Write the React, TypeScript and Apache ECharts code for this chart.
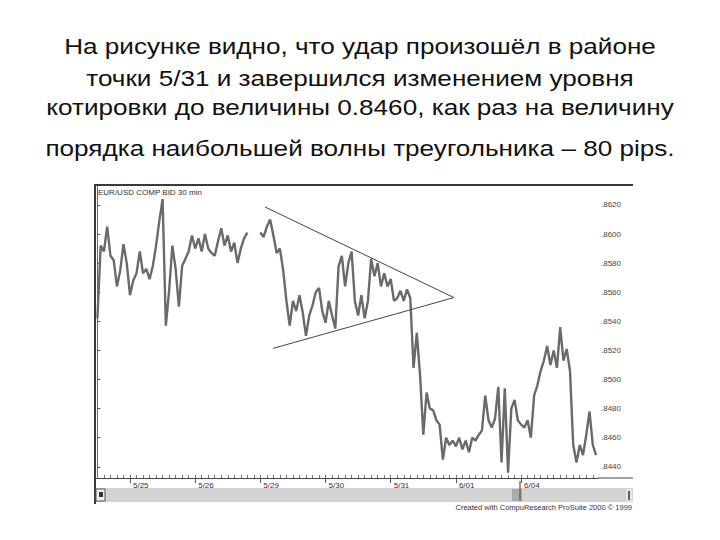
import React, { useEffect, useRef } from "react";
import * as echarts from "echarts";

const titleLines = [
  "На рисунке видно, что удар произошёл в районе",
  "точки 5/31 и завершился изменением уровня",
  "котировки до величины 0.8460, как раз на величину",
  "порядка наибольшей волны треугольника – 80 pips.",
];
const titleBaselines = [53, 85, 114, 155];

const chartCaption = "EUR/USD COMP BID 30 min";
const creditText = "Created with CompuResearch ProSuite 2000 © 1999";

// x axis: 20 sampled steps per trading day
const dayLabels = ["5/25", "5/26", "5/29", "5/30", "5/31", "6/01", "6/04"];
const dayStarts = [10, 30, 50, 70, 90, 110, 130];
const minorTicks: number[] = [];
for (let t = 0; t <= 152; t += 2) minorTicks.push(t);

const priceTicks = [0.844, 0.846, 0.848, 0.85, 0.852, 0.854, 0.856, 0.858, 0.86, 0.862];

const prices: (number | null)[] = [
  0.8542, 0.8592, 0.8588, 0.8605, 0.8585, 0.8582, 0.8564, 0.8575, 0.8593, 0.8580,
  0.8558, 0.8568, 0.8573, 0.8588, 0.8573, 0.8576, 0.8569, 0.8578, 0.8592, 0.8609,
  0.8624, 0.8537, 0.8561, 0.8592, 0.8576, 0.8550, 0.8578, 0.8583, 0.8588, 0.8599,
  0.8590, 0.8597, 0.8588, 0.8600, 0.8590, 0.8587, 0.8585, 0.8595, 0.8604, 0.8592,
  0.8599, 0.8588, 0.8594, 0.8580, 0.8590, 0.8597, 0.8601, null, null, null,
  0.8601, 0.8598, 0.8605, 0.8610, 0.8599, 0.8587, 0.8590, 0.8575, 0.8554, 0.8537,
  0.8554, 0.8547, 0.8558, 0.8546, 0.8530, 0.8544, 0.8551, 0.8560, 0.8563, 0.8547,
  0.8539, 0.8554, 0.8544, 0.8535, 0.8578, 0.8585, 0.8564, 0.8580, 0.8588, 0.8554,
  0.8544, 0.8558, 0.8542, 0.8554, 0.8583, 0.8571, 0.8580, 0.8564, 0.8573, 0.8564,
  0.8569, 0.8554, 0.8556, 0.8561, 0.8554, 0.8562, 0.8556, 0.8508, 0.8532, 0.8503,
  0.8462, 0.8491, 0.8480, 0.8479, 0.8472, 0.8469, 0.8445, 0.8460, 0.8455, 0.8458,
  0.8454, 0.8460, 0.8452, 0.8458, 0.8450, 0.8460, 0.8458, 0.8462, 0.8465, 0.8489,
  0.8472, 0.8467, 0.8473, 0.8495, 0.8443, 0.8494, 0.8436, 0.8480, 0.8486, 0.8472,
  0.8469, 0.8467, 0.8472, 0.8460, 0.8489, 0.8496, 0.8506, 0.8513, 0.8523, 0.8510,
  0.8520, 0.8508, 0.8536, 0.8513, 0.8521, 0.8506, 0.8455, 0.8443, 0.8455, 0.8448,
  0.8462, 0.8478, 0.8455, 0.8448,
];

const triangleUpper = [
  [51.4, 0.86186],
  [109.4, 0.85563],
];
const triangleLower = [
  [53.9, 0.85214],
  [109.4, 0.85563],
];

const X_MIN = -0.74;
const X_MAX = 153.6;
const Y_MIN = 0.84323;
const Y_MAX = 0.8633;

const FONT = "'Liberation Sans', Arial, sans-serif";

export default function App() {
  const ref = useRef<HTMLDivElement>(null);
  useEffect(() => {
    if (!ref.current) return;
    const chart = echarts.init(ref.current, null, { renderer: "svg" });
    const seriesData = prices.map((p, i) => [i, p === null ? "-" : p]);

    const graphics: any[] = [];
    titleLines.forEach((t, k) => {
      graphics.push({
        type: "text",
        x: 360,
        y: titleBaselines[k] - 18,
        scaleX: 1.215,
        style: { text: t, font: `21.5px ${FONT}`, fill: "#111", align: "center", verticalAlign: "top" },
      });
    });
    // chart frame
    graphics.push(
      { type: "rect", shape: { x: 94, y: 184, width: 539, height: 2 }, style: { fill: "#3a3a3a" } },
      { type: "rect", shape: { x: 94, y: 184, width: 2, height: 320 }, style: { fill: "#3a3a3a" } },
      { type: "line", shape: { x1: 598, y1: 478, x2: 633, y2: 478 }, style: { stroke: "#444", lineWidth: 1 } },
      { type: "rect", shape: { x: 96, y: 488, width: 537, height: 14 }, style: { fill: "#d4d4d4" } },
      { type: "rect", shape: { x: 96, y: 489, width: 9, height: 12 }, style: { fill: "#eee", stroke: "#555", lineWidth: 1 } },
      { type: "rect", shape: { x: 99, y: 492, width: 4, height: 5 }, style: { fill: "#333" } },
      { type: "rect", shape: { x: 512, y: 489, width: 10, height: 12 }, style: { fill: "#aaa" } },
      { type: "line", shape: { x1: 520, y1: 481, x2: 520, y2: 501 }, style: { stroke: "#555", lineWidth: 1.2 } },
      { type: "rect", shape: { x: 626, y: 489, width: 6, height: 12 }, style: { fill: "#e6e6e6" } },
      { type: "line", shape: { x1: 629, y1: 491, x2: 629, y2: 500 }, style: { stroke: "#333", lineWidth: 1.5 } },
      {
        type: "text",
        x: 98,
        y: 188,
        style: { text: chartCaption, font: `8px ${FONT}`, fill: "#333" },
      },
      {
        type: "text",
        x: 632,
        y: 503,
        style: { text: creditText, font: `7.5px ${FONT}`, fill: "#333", align: "right" },
      }
    );

    chart.setOption({
      animation: false,
      backgroundColor: "#ffffff",
      grid: { left: 95, right: 122, top: 186, bottom: 62, containLabel: false },
      xAxis: [
        {
          type: "value",
          position: "bottom",
          min: X_MIN,
          max: X_MAX,
          splitLine: { show: false },
          axisLine: { show: true, lineStyle: { color: "#444", width: 1 } },
          axisTick: {
            show: true,
            customValues: dayStarts,
            length: 5,
            inside: false,
            lineStyle: { color: "#555" },
          },
          axisLabel: {
            customValues: dayStarts,
            formatter: (v: number) => dayLabels[dayStarts.indexOf(Math.round(v))] ?? "",
            align: "left",
            padding: [0, 0, 0, 3],
            margin: 3,
            fontSize: 8,
            fontFamily: FONT,
            color: "#333",
          },
        },
        {
          type: "value",
          position: "bottom",
          min: X_MIN,
          max: X_MAX,
          splitLine: { show: false },
          axisLine: { show: false },
          axisTick: {
            show: true,
            customValues: minorTicks,
            length: 3,
            inside: true,
            lineStyle: { color: "#777" },
          },
          axisLabel: { show: false },
        },
      ],
      yAxis: {
        type: "value",
        position: "right",
        min: Y_MIN,
        max: Y_MAX,
        splitLine: { show: false },
        axisLine: { show: true, lineStyle: { color: "#666", width: 1 } },
        axisTick: {
          show: true,
          customValues: priceTicks,
          length: 3,
          lineStyle: { color: "#555" },
        },
        axisLabel: {
          customValues: priceTicks,
          formatter: (v: number) => "." + (v * 10000).toFixed(0),
          margin: 3,
          fontSize: 8,
          fontFamily: FONT,
          color: "#444",
        },
      },
      series: [
        {
          type: "line",
          data: seriesData,
          showSymbol: false,
          connectNulls: false,
          lineStyle: { color: "#6a6a6a", width: 2.4 },
          markLine: {
            silent: true,
            symbol: "none",
            label: { show: false },
            lineStyle: { color: "#444", width: 1, type: "solid" },
            data: [
              [{ coord: triangleUpper[0] }, { coord: triangleUpper[1] }],
              [{ coord: triangleLower[0] }, { coord: triangleLower[1] }],
            ],
          },
        },
      ],
      graphic: graphics,
    });
    return () => chart.dispose();
  }, []);
  return <div ref={ref} style={{ width: 720, height: 540, position: "absolute", left: 0, top: 0 }} />;
}
